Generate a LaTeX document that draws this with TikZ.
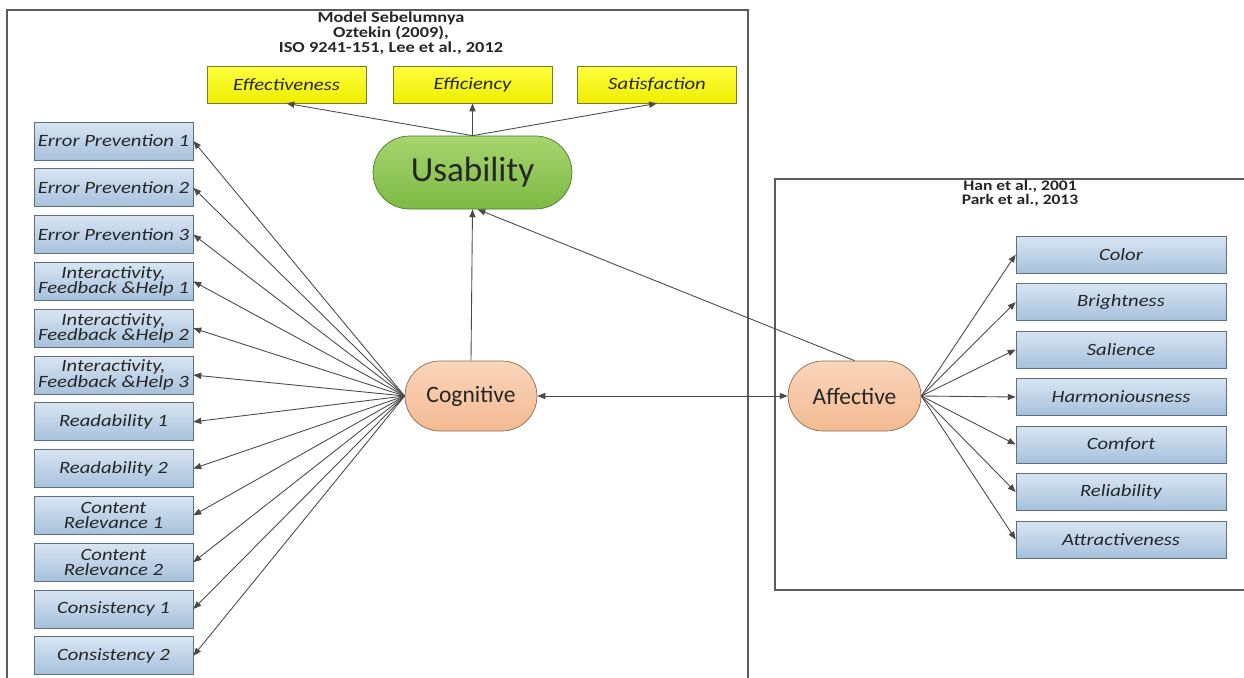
\documentclass[tikz,border=0pt]{standalone}
\usepackage{fontspec}
\setmainfont{Carlito}
\newfontfamily\widefont{Carlito}[FakeStretch=1.2]
\usetikzlibrary{arrows.meta,shapes.misc,calc}
\definecolor{blueT}{HTML}{D8E5F2}
\definecolor{blueB}{HTML}{A6C1DC}
\definecolor{blueL}{HTML}{5F6F80}
\definecolor{yelT}{HTML}{FFFF40}
\definecolor{yelB}{HTML}{EEEE00}
\definecolor{yelL}{HTML}{7A7A30}
\definecolor{grnT}{HTML}{A6D46E}
\definecolor{grnB}{HTML}{7DBA44}
\definecolor{grnL}{HTML}{4E7A2A}
\definecolor{pchT}{HTML}{FAD5BA}
\definecolor{pchB}{HTML}{F3BA92}
\definecolor{pchL}{HTML}{8C6A50}
\definecolor{linec}{HTML}{4A4A4A}
\definecolor{framec}{HTML}{5A5A5A}
\definecolor{txt}{HTML}{262626}
\begin{document}
\begin{tikzpicture}[x=0.02cm,y=-0.02cm,
  bluebox/.style={rectangle, draw=blueL, top color=blueT, bottom color=blueB, inner sep=0pt,
    align=center, text=txt, font=\widefont\fontsize{9.8}{8.7}\selectfont\itshape},
  lbox/.style={bluebox, minimum width=3.18cm, minimum height=0.76cm},
  rbox/.style={bluebox, minimum width=4.2cm, minimum height=0.74cm},
  ybox/.style={rectangle, draw=yelL, top color=yelT, bottom color=yelB, inner sep=0pt,
    minimum width=3.18cm, minimum height=0.74cm, text=txt, font=\widefont\fontsize{9.8}{11}\selectfont\itshape},
  stad/.style={rounded rectangle, inner sep=0pt, text=txt},
  titl/.style={align=center, text=txt, font=\widefont\fontsize{8.7}{8.5}\selectfont\bfseries},
  titr/.style={align=center, text=txt, font=\widefont\fontsize{8.3}{8}\selectfont\bfseries},
  conn/.style={draw=linec, line width=0.5pt, -{Triangle[length=4.5pt,width=3.5pt]}},
  frm/.style={draw=framec, line width=0.7pt}]
\clip (0,0) rectangle (1244,677);
\fill[white] (0,0) rectangle (1244,677);
% frames
\draw[frm] (7,10) rectangle (748,700);
\draw[frm] (775,179) rectangle (1270,590);
% titles
\node[titl] (t1) at (391,33) {Model Sebelumnya\\Oztekin (2009),\\ISO 9241-151, Lee et al., 2012};
\node[titr] (t2) at (1020,193) {Han et al., 2001\\Park et al., 2013};
% top yellow
\node[ybox] (eff) at (286.5,84.5) {Effectiveness};
\node[ybox] (efc) at (472.5,84.5) {Efficiency};
\node[ybox] (sat) at (657,84.5) {Satisfaction};
% central
\node[stad, draw=grnL, top color=grnT, bottom color=grnB, minimum width=3.98cm, minimum height=1.46cm,
  font=\fontsize{20}{23}\selectfont] (us) at (472.5,172.5) {Usability};
\node[stad, draw=pchL, top color=pchT, bottom color=pchB, minimum width=2.64cm, minimum height=1.4cm,
  font=\fontsize{13.4}{15}\selectfont] (cog) at (471,396) {Cognitive};
\node[stad, draw=pchL, top color=pchT, bottom color=pchB, minimum width=2.66cm, minimum height=1.4cm,
  font=\fontsize{13.4}{15}\selectfont] (aff) at (854.5,396) {Affective};
% left boxes
\foreach \t [count=\i] in {Error Prevention 1, Error Prevention 2, Error Prevention 3,
  {Interactivity,\\Feedback \&Help 1}, {Interactivity,\\Feedback \&Help 2}, {Interactivity,\\Feedback \&Help 3},
  Readability 1, Readability 2, {Content\\Relevance 1}, {Content\\Relevance 2}, Consistency 1, Consistency 2}
  {\node[lbox] (l\i) at (113.5,{141+46.8*(\i-1)}) {\t};
   \draw[conn] (cog.west) -- (l\i.east);}
% right boxes
\foreach \t [count=\i] in {Color, Brightness, Salience, Harmoniousness, Comfort, Reliability, Attractiveness}
  {\node[rbox] (r\i) at (1121,{254.5+47.5*(\i-1)}) {\t};
   \draw[conn] (aff.east) -- (r\i.west);}
% usability connectors
\draw[conn] (us.north) -- (eff.south);
\draw[conn] (us.north) -- (efc.south);
\draw[conn] (us.north) -- (sat.south);
\draw[conn] (cog.north) -- (us.south);
\coordinate (usb) at ([xshift=0.1cm]us.south);
\draw[conn] (aff.north) -- (usb);
\draw[conn, {Triangle[length=4.5pt,width=3.5pt]}-{Triangle[length=4.5pt,width=3.5pt]}] (cog.east) -- (aff.west);
\end{tikzpicture}
\end{document}
